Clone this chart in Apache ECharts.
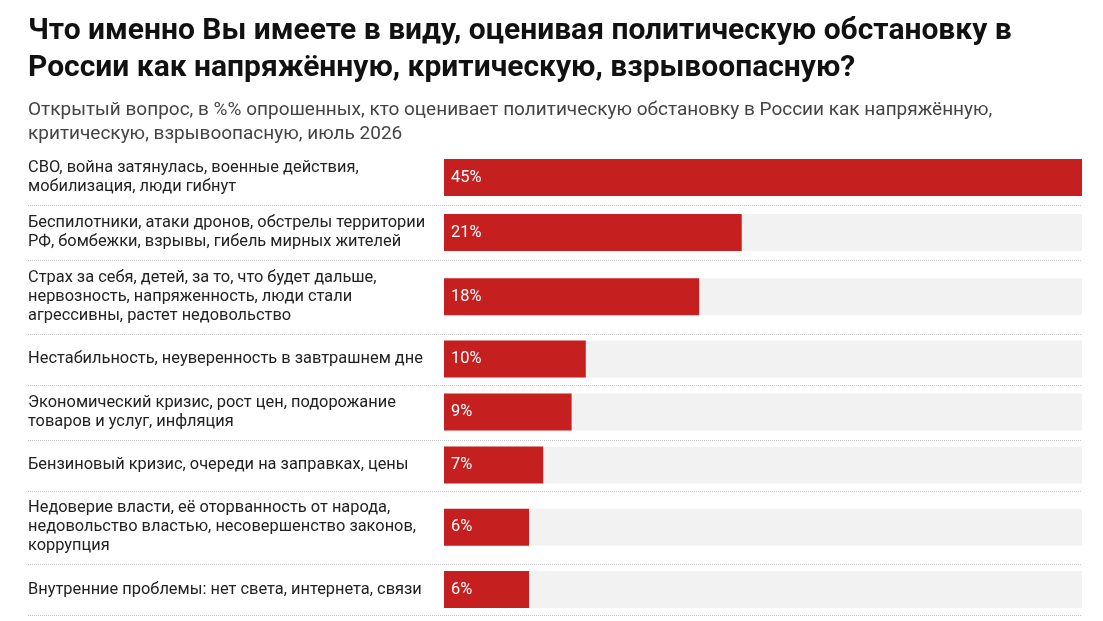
<!DOCTYPE html>
<html>
<head>
<meta charset="utf-8">
<title>Политическая обстановка</title>
<script src="https://cdn.jsdelivr.net/npm/echarts@6/dist/echarts.min.js"></script>
<style>
    html, body { margin: 0; padding: 0; background: #fff; }
    #chart { width: 1103px; height: 621px; }
</style>
</head>
<body>
<div id="chart"></div>
<script>
var titleText = 'Что именно Вы имеете в виду, оценивая политическую обстановку в\nРоссии как напряжённую, критическую, взрывоопасную?';
var subText = 'Открытый вопрос, в %% опрошенных, кто оценивает политическую обстановку в России как напряжённую,\nкритическую, взрывоопасную, июль 2026';

var categories = [
    'СВО, война затянулась, военные действия,\nмобилизация, люди гибнут',
    'Беспилотники, атаки дронов, обстрелы территории\nРФ, бомбежки, взрывы, гибель мирных жителей',
    'Страх за себя, детей, за то, что будет дальше,\nнервозность, напряженность, люди стали\nагрессивны, растет недовольство',
    'Нестабильность, неуверенность в завтрашнем дне',
    'Экономический кризис, рост цен, подорожание\nтоваров и услуг, инфляция',
    'Бензиновый кризис, очереди на заправках, цены',
    'Недоверие власти, её оторванность от народа,\nнедовольство властью, несовершенство законов,\nкоррупция',
    'Внутренние проблемы: нет света, интернета, связи'
];
var values = [45, 21, 18, 10, 9, 7, 6, 6];
var axisMax = 45;

var chart = echarts.init(document.getElementById('chart'));

// раскладка строк: высота зависит от числа строк подписи
var rowsTop = 150;
var labelX = 28;
var barLeft = 444;
var barRight = 1082;

var grids = [], xAxes = [], yAxes = [], series = [], lines = [];
var y = rowsTop;
categories.forEach(function (name, i) {
    var n = name.split('\n').length;
    var h = Math.max(51, 18 + 18.5 * n);
    grids.push({ left: barLeft, width: barRight - barLeft, top: y, height: h });
    xAxes.push({
        gridIndex: i, type: 'value', min: 0, max: axisMax, show: false
    });
    yAxes.push({
        gridIndex: i, type: 'category', data: [name],
        axisLine: { show: false }, axisTick: { show: false }, splitLine: { show: false },
        axisLabel: {
            align: 'left',
            margin: barLeft - labelX,
            fontFamily: 'Roboto',
            fontSize: 16.4,
            lineHeight: 19,
            color: '#222'
        }
    });
    series.push({
        type: 'bar',
        xAxisIndex: i, yAxisIndex: i,
        data: [values[i]],
        barWidth: 37,
        itemStyle: { color: '#c61f1f' },
        showBackground: true,
        backgroundStyle: { color: '#f2f2f2' },
        silent: true,
        label: {
            show: true,
            position: 'insideLeft',
            distance: 7,
            formatter: '{c}%',
            fontFamily: 'Roboto',
            fontSize: 16.4,
            color: '#fff'
        }
    });
    y += h;
    lines.push({
        type: 'line',
        shape: { x1: labelX, y1: Math.round(y) + 0.5, x2: barRight, y2: Math.round(y) + 0.5 },
        style: { stroke: '#c8c8c8', lineWidth: 1, lineDash: [1, 1] },
        silent: true
    });
});

var option = {
    backgroundColor: '#fff',
    animation: false,
    title: {
        text: titleText,
        subtext: subText,
        left: 28,
        top: 13,
        itemGap: 11,
        padding: 0,
        textStyle: {
            fontFamily: 'Roboto',
            fontSize: 30,
            fontWeight: 'bold',
            lineHeight: 37,
            color: '#111'
        },
        subtextStyle: {
            fontFamily: 'Roboto',
            fontSize: 19,
            lineHeight: 24,
            color: '#444'
        }
    },
    grid: grids,
    xAxis: xAxes,
    yAxis: yAxes,
    series: series,
    graphic: lines
};

chart.setOption(option);
</script>
</body>
</html>
